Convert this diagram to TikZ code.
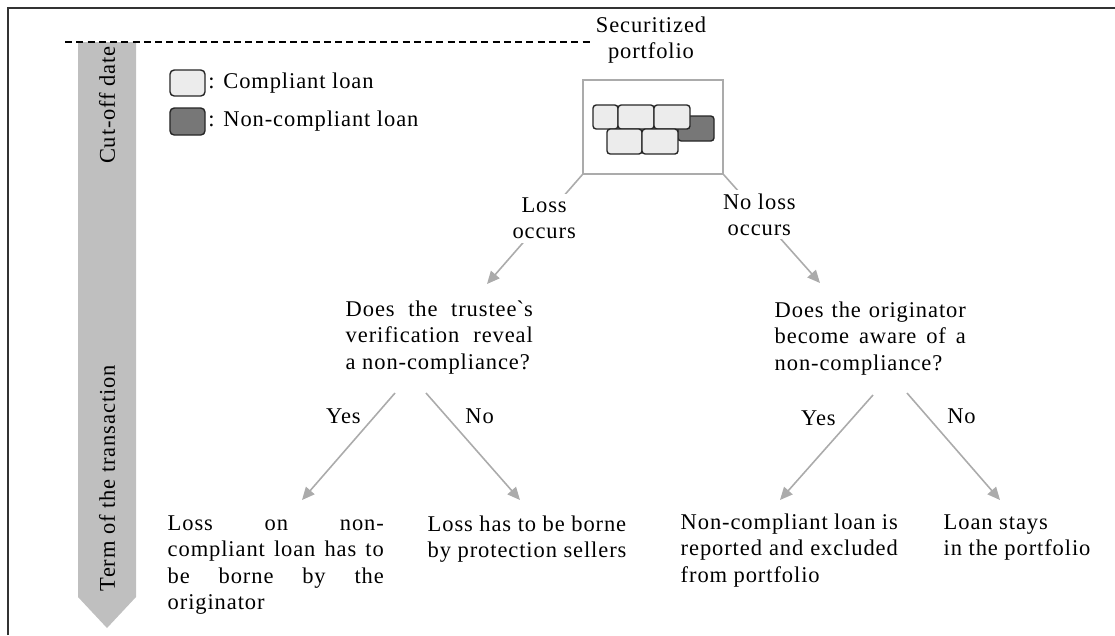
\documentclass[tikz,border=0pt]{standalone}
\usepackage{fontspec}
\setmainfont[LetterSpace=4]{Liberation Serif}
\usetikzlibrary{calc,arrows.meta,positioning}
\definecolor{bandgray}{HTML}{BFBFBF}
\definecolor{lightloan}{HTML}{ECECEC}
\definecolor{darkloan}{HTML}{777777}
\definecolor{arrgray}{HTML}{ABABAB}

\begin{document}
\begin{tikzpicture}[x=0.01cm,y=-0.01cm,
	txt/.style={inner sep=0pt,font=\fontsize{6.4}{7.5}\selectfont},
	jtxt/.style={txt,anchor=north west,align=justify,text width=#1},
	ltxt/.style={txt,anchor=north west,align=left},
	lbl/.style={txt,align=center},
	arr/.style={draw=arrgray,line width=0.45pt,-{Triangle[length=3.6pt,width=3.2pt]}},
	loan/.style={draw=black!85,line width=0.4pt,rounded corners=0.9pt,fill=lightloan},
	badloan/.style={loan,fill=darkloan}]
		\useasboundingbox (0,0) rectangle (1115,635);
		\draw[line width=0.6pt,black!80] (8,635) -- (8,8) -- (1115,8);
		% time axis
		\fill[bandgray] (78,42) -- (136,42) -- (136,597) -- (107,628) -- (78,597) -- cycle;
		\draw[dash pattern=on 2pt off 1.2pt,line width=0.45pt] (65,42) -- (590,42);
		\node[txt,rotate=90] (cutoff) at (107,105) {Cut-off date};
		\node[txt,rotate=90] (term) at (107,478) {Term of the transaction};
		% legend
		\node[loan,rounded corners=1.2pt,minimum width=0.35cm,minimum height=0.26cm,inner sep=0pt] (leg1) at (187.5,83) {};
		\node[loan,rounded corners=1.2pt,fill=darkloan,minimum width=0.35cm,minimum height=0.27cm,inner sep=0pt] (leg2) at (187.5,121.5) {};
		\node[txt,right=0.02cm of leg1] (leg1t) {: Compliant loan};
		\node[txt,right=0.02cm of leg2] (leg2t) {: Non-compliant loan};
		% portfolio
		\node[lbl] (secur) at (651,40) {Securitized\\portfolio};
		\node[draw=arrgray,line width=0.4pt,minimum width=1.40cm,minimum height=0.94cm,inner sep=0pt] (port) at (653,127) {};
		\draw[badloan] (678,116) rectangle (714,141);
		\foreach \a/\b in {593/618,618/654,654/690}
		\draw[loan] (\a,105) rectangle (\b,129);
		\foreach \a/\b in {607/642,642/678}
		\draw[loan] (\a,129) rectangle (\b,154);
		% questions
		\node[jtxt=1.87cm] (q1) at (345,300) {Does the trustee\textasciigrave s\linebreak verification reveal\linebreak a non-compliance?};
		\node[jtxt=1.91cm] (q2) at (774,301) {Does the originator\linebreak become aware of a\linebreak non-compliance?};
		\coordinate (q1in) at (487,284);
		\coordinate (q2in) at (820,283);
		\draw[arr] (port.south west) -- node[lbl,pos=0.4,fill=white,inner sep=1pt] (loss) {Loss\\occurs} (q1in);
		\draw[arr] (port.south east) -- node[lbl,pos=0.37,fill=white,inner sep=1pt] (noloss) {No loss\\occurs} (q2in);
		% outcomes
		\node[jtxt=2.16cm] (l1) at (167,515) {Loss on non-\linebreak compliant loan has to\linebreak be borne by the\linebreak originator};
		\node[ltxt] (l2) at (427,515) {Loss has to be borne\\by protection sellers};
		\node[jtxt=2.17cm] (l3) at (680,513) {Non-compliant loan is\linebreak reported and excluded\linebreak from portfolio};
		\node[ltxt] (l4) at (943,514) {Loan stays\\in the portfolio};
		\coordinate (q1y) at (395,393);
		\coordinate (q1n) at (426,393);
		\coordinate (q2y) at (873,395);
		\coordinate (q2n) at (907,393);
		\coordinate (l1in) at (302,500);
		\coordinate (l2in) at (520,500);
		\coordinate (l3in) at (780,500);
		\coordinate (l4in) at (1000,500);
		\draw[arr] (q1y) -- node[txt,pos=0.22,left=0.13cm] (y1) {Yes} (l1in);
		\draw[arr] (q1n) -- node[txt,pos=0.22,right=0.18cm] (n1) {No} (l2in);
		\draw[arr] (q2y) -- node[txt,pos=0.22,left=0.16cm] (y2) {Yes} (l3in);
		\draw[arr] (q2n) -- node[txt,pos=0.22,right=0.19cm] (n2) {No} (l4in);
	\end{tikzpicture}
\end{document}
